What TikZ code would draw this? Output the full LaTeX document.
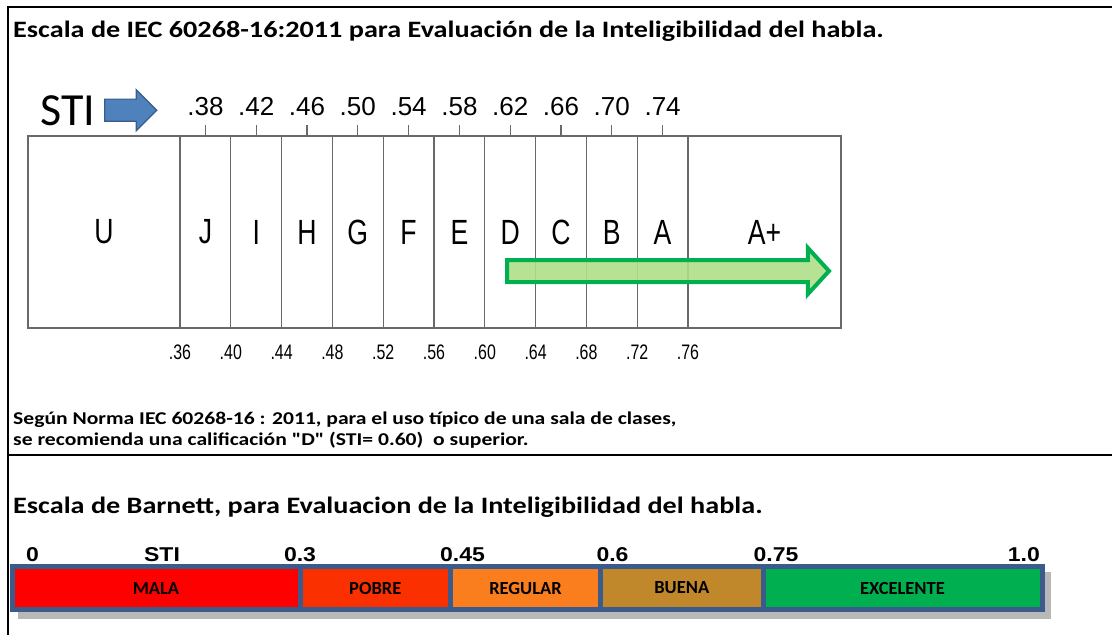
\documentclass[tikz,border=0pt]{standalone}
\usepackage{fontspec}
\setmainfont{Carlito}
\newfontfamily\widebody[FakeStretch=1.2]{Carlito}
\newfontfamily\arialfont{Liberation Sans}
\newfontfamily\narrowfont[FakeStretch=0.76]{Liberation Sans}
\newfontfamily\widefont[FakeStretch=1.15]{Liberation Sans}
\usetikzlibrary{positioning, shapes.arrows}

\definecolor{gridgray}{RGB}{105,105,105}
\definecolor{stiblue}{RGB}{79,129,189}
\definecolor{stiblueline}{RGB}{56,93,138}
\definecolor{arrowgreen}{RGB}{0,176,80}
\definecolor{arrowfill}{RGB}{175,222,135}
\definecolor{barblue}{RGB}{59,92,138}
\definecolor{malared}{RGB}{255,0,0}
\definecolor{pobrered}{RGB}{250,48,0}
\definecolor{regularorange}{RGB}{250,125,30}
\definecolor{buenabrown}{RGB}{192,136,42}
\definecolor{excelentegreen}{RGB}{0,176,80}

\begin{document}
\begin{tikzpicture}[x=1pt,y=-1pt, title/.style={anchor=base west,inner sep=0pt,font=\widebody\bfseries\fontsize{23.5}{23.5}\selectfont}, note/.style={anchor=base west,inner sep=0pt,font=\widebody\bfseries\fontsize{18}{18}\selectfont}, grade node/.style={rectangle,draw=gridgray,line width=1.2pt,outer sep=0pt,inner sep=0pt,minimum height=192pt,minimum width=50.8pt,font=\narrowfont\fontsize{35}{35}\selectfont}, top label/.style={inner sep=0pt,font=\arialfont\fontsize{26}{26}\selectfont}, low label/.style={inner sep=0pt,font=\narrowfont\fontsize{21}{21}\selectfont}, scale node/.style={rectangle,draw=barblue,line width=5pt,outer sep=0pt,inner sep=0pt,minimum height=43pt,font=\bfseries\fontsize{18.5}{18.5}\selectfont}, scale label/.style={inner sep=0pt,font=\widefont\bfseries\fontsize{20}{20}\selectfont}]

  \useasboundingbox (0,0) rectangle (1112,635);
  \draw[line width=1.5pt] (8,635) -- (8,7) -- (1112,7);
  \draw[line width=1.5pt] (8,455) -- (1112,455);

  \node[title] (title1) at (13,37) {Escala de IEC 60268-16:2011 para Evaluación de la Inteligibilidad del habla.};

  \node[inner sep=0pt,anchor=base west,font=\fontsize{46}{46}\selectfont] (sti) at (40,125) {STI};
  \node[single arrow,draw=stiblueline,fill=stiblue,line width=1.2pt,inner xsep=0pt,inner ysep=10.5pt,minimum height=52pt,single arrow head extend=9.5pt,single arrow tip angle=90] (stiarrow) [right=9pt of sti] {};

  \node[grade node, minimum width=152pt] (U) at (104,232) {U};
  \node[grade node] (J) [right=0pt of U] {J};
  \node[grade node] (I) [right=0pt of J] {I};
  \node[grade node] (H) [right=0pt of I] {H};
  \node[grade node] (G) [right=0pt of H] {G};
  \node[grade node] (F) [right=0pt of G] {F};
  \node[grade node] (E) [right=0pt of F] {E};
  \node[grade node] (D) [right=0pt of E] {D};
  \node[grade node] (C) [right=0pt of D] {C};
  \node[grade node] (B) [right=0pt of C] {B};
  \node[grade node] (A) [right=0pt of B] {A};
  \node[grade node, minimum width=153pt] (Aplus) [right=0pt of A] {A+};

  \draw[gridgray,line width=1.2pt] (J.north) -- ++(0,-11) (I.north) -- ++(0,-11) (H.north) -- ++(0,-11) (G.north) -- ++(0,-11) (F.north) -- ++(0,-11) (E.north) -- ++(0,-11) (D.north) -- ++(0,-11) (C.north) -- ++(0,-11) (B.north) -- ++(0,-11) (A.north) -- ++(0,-11);

  \node[top label] (t38) [above=20pt of J.north] {.38};
  \node[top label] (t42) [above=20pt of I.north] {.42};
  \node[top label] (t46) [above=20pt of H.north] {.46};
  \node[top label] (t50) [above=20pt of G.north] {.50};
  \node[top label] (t54) [above=20pt of F.north] {.54};
  \node[top label] (t58) [above=20pt of E.north] {.58};
  \node[top label] (t62) [above=20pt of D.north] {.62};
  \node[top label] (t66) [above=20pt of C.north] {.66};
  \node[top label] (t70) [above=20pt of B.north] {.70};
  \node[top label] (t74) [above=20pt of A.north] {.74};

  \node[low label] (l36) [below=17pt of U.south east] {.36};
  \node[low label] (l40) [below=17pt of J.south east] {.40};
  \node[low label] (l44) [below=17pt of I.south east] {.44};
  \node[low label] (l48) [below=17pt of H.south east] {.48};
  \node[low label] (l52) [below=17pt of G.south east] {.52};
  \node[low label] (l56) [below=17pt of F.south east] {.56};
  \node[low label] (l60) [below=17pt of E.south east] {.60};
  \node[low label] (l64) [below=17pt of D.south east] {.64};
  \node[low label] (l68) [below=17pt of C.south east] {.68};
  \node[low label] (l72) [below=17pt of B.south east] {.72};
  \node[low label] (l76) [below=17pt of A.south east] {.76};

  \node[single arrow,draw=arrowgreen,fill=arrowfill,fill opacity=0.9,line width=4pt,inner xsep=0pt,inner ysep=9pt,minimum height=322pt,single arrow head extend=12pt,single arrow tip angle=95,anchor=tail] (goal) at (505,271) {};

  \node[note] (note1) at (13,424) {Según Norma IEC 60268-16 : 2011, para el uso típico de una sala de clases,};
  \node[note] (note2) at (13,445) {se recomienda una calificación {\char34}D{\char34} (STI= 0.60)~ o superior.};

  \node[title] (title2) at (13,513) {Escala de Barnett, para Evaluacion de la Inteligibilidad del habla.};

  \fill[black!35,opacity=0.8] (18,572) rectangle (1051,619);
  \node[scale node, fill=malared, minimum width=288pt] (mala) at (156,588) {MALA};
  \node[scale node, fill=pobrered, minimum width=150.5pt] (pobre) [right=0pt of mala] {POBRE};
  \node[scale node, fill=regularorange, minimum width=150pt] (regular) [right=0pt of pobre] {REGULAR};
  \node[scale node, fill=buenabrown, minimum width=162.5pt] (buena) [right=0pt of regular] {BUENA};
  \node[scale node, fill=excelentegreen, minimum width=279pt] (excelente) [right=0pt of buena] {EXCELENTE};

  \node[scale label] (s0) [above right=4.5pt and 14pt of mala.north west] {0};
  \node[scale label] (ssti) [above=4.5pt of mala.north, xshift=6pt] {STI};
  \node[scale label] (s30) [above=4.5pt of mala.north east] {0.3};
  \node[scale label] (s45) [above=4.5pt of pobre.north east, xshift=12pt] {0.45};
  \node[scale label] (s60) [above=4.5pt of regular.north east, xshift=12pt] {0.6};
  \node[scale label] (s75) [above=4.5pt of buena.north east, xshift=13pt] {0.75};
  \node[scale label] (s100) [above left=4.5pt and 2pt of excelente.north east] {1.0};
\end{tikzpicture}
\end{document}
